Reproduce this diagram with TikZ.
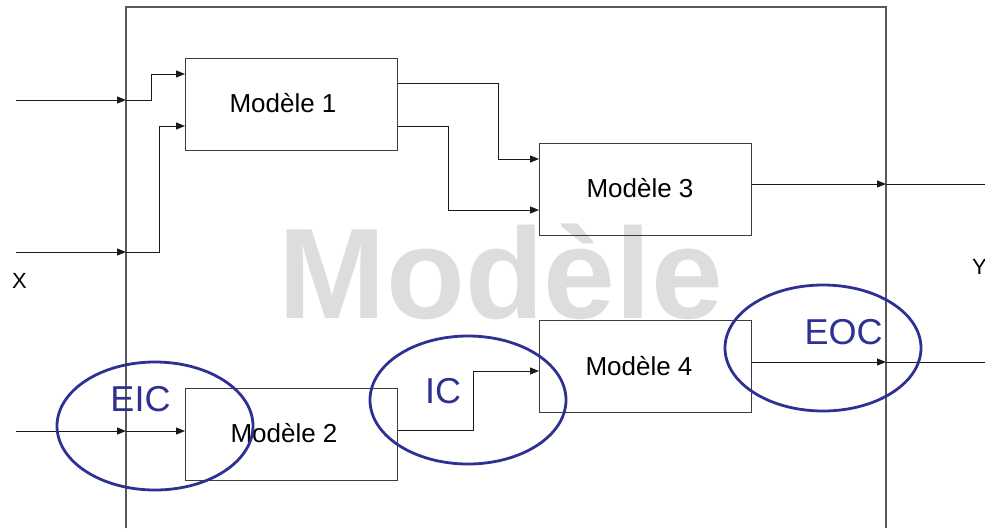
\documentclass[tikz,border=0pt]{standalone}
\usepackage{fontspec}
\setmainfont{Liberation Sans}
\usetikzlibrary{arrows.meta,calc}
\definecolor{ovblue}{RGB}{46,49,146}
\definecolor{wmgray}{RGB}{221,221,221}
\definecolor{boxline}{RGB}{60,60,60}
\tikzset{
  mbox/.style={draw=boxline, line width=1.2pt, minimum width=212pt, minimum height=92pt, inner sep=0pt},
  lbl/.style={font=\fontsize{26}{26}\selectfont, inner sep=0pt, anchor=base},
  conn/.style={draw=black!90, line width=1pt},
  arr/.style={conn, -{Triangle[length=9pt,width=7pt]}},
  oval/.style={draw=ovblue, line width=2.8pt},
  ovlbl/.style={font=\fontsize{36}{36}\selectfont, text=ovblue, inner sep=0pt, anchor=base},
  iolbl/.style={font=\fontsize{22}{22}\selectfont, inner sep=0pt, anchor=base}
}
\begin{document}
\begin{tikzpicture}[x=1pt,y=-1pt]
\useasboundingbox (0,0) rectangle (985,528);
% watermark
\node[font=\bfseries\fontsize{129}{129}\selectfont, text=wmgray, inner sep=0pt, anchor=base] (wm) at (501,318) {Modèle};
% outer model
\draw[draw=black!65, line width=1.6pt] (126,528) -- (126,7) -- (886,7) -- (886,528);
% boxes
\node[mbox, anchor=north west] (m1) at (185,58) {};
\node[mbox, anchor=north west] (m2) at (185,388) {};
\node[mbox, anchor=north west] (m3) at (539,143) {};
\node[mbox, anchor=north west] (m4) at (539,320) {};
\node[lbl] (t1) at ($(m1.north west)+(98,54)$) {Modèle 1};
\node[lbl] (t2) at ($(m2.north west)+(99,54)$) {Modèle 2};
\node[lbl] (t3) at ($(m3.north west)+(101,54)$) {Modèle 3};
\node[lbl] (t4) at ($(m4.north west)+(100,55)$) {Modèle 4};
% ports on the outer model
\coordinate (s1) at (16,100);
\coordinate (s2) at (16,252);
\coordinate (s3) at (16,431);
\coordinate (e1) at (126,100);
\coordinate (e2) at (126,252);
\coordinate (e3) at (126,431);
\coordinate (o3) at (886,184);
\coordinate (o4) at (886,362);
\coordinate (d3) at (985,184);
\coordinate (d4) at (985,362);
% input ports of models
\coordinate (m1a) at ($(m1.north west)+(0,16)$);
\coordinate (m1b) at ($(m1.north west)+(0,68)$);
\coordinate (m3a) at ($(m3.north west)+(0,16)$);
\coordinate (m3b) at ($(m3.north west)+(0,67)$);
\coordinate (m4a) at ($(m4.north west)+(0,51)$);
\coordinate (m2a) at ($(m2.north west)+(0,43)$);
% output ports of models
\coordinate (m1x) at ($(m1.north east)+(0,25)$);
\coordinate (m1y) at ($(m1.north east)+(0,68)$);
\coordinate (m3x) at ($(m3.north east)+(0,41)$);
\coordinate (m4x) at ($(m4.north east)+(0,42)$);
\coordinate (m2x) at ($(m2.north east)+(0,42)$);
% connectors
\draw[arr] (s1) -- (e1);
\draw[arr] (s2) -- (e2);
\draw[arr] (s3) -- (e3);
\draw[arr] (e1) -- ++(25,0) |- (m1a);
\draw[arr] (e2) -- ++(33,0) |- (m1b);
\draw[arr] (e3) -- (m2a);
\draw[arr] (m1x) -- ++(100,0) |- (m3a);
\draw[arr] (m1y) -- ++(50,0) |- (m3b);
\draw[arr] (m2x) -- ++(75,0) |- (m4a);
\draw[arr] (m3x) -- (o3);
\draw[conn] (o3) -- (d3);
\draw[arr] (m4x) -- (o4);
\draw[conn] (o4) -- (d4);
% ovals
\draw[oval] (155,426) ellipse [x radius=98, y radius=64];
\draw[oval] (468,400) ellipse [x radius=98, y radius=64];
\draw[oval] (823,348) ellipse [x radius=98, y radius=63];
\node[ovlbl] (eic) at (140.5,411) {EIC};
\node[ovlbl] (ic) at (443,403) {IC};
\node[ovlbl] (eoc) at (843.5,344) {EOC};
% X / Y
\node[iolbl] (xl) at (19.5,288) {X};
\node[iolbl, anchor=base west] (yl) at (972,274) {Y};
\end{tikzpicture}
\end{document}
